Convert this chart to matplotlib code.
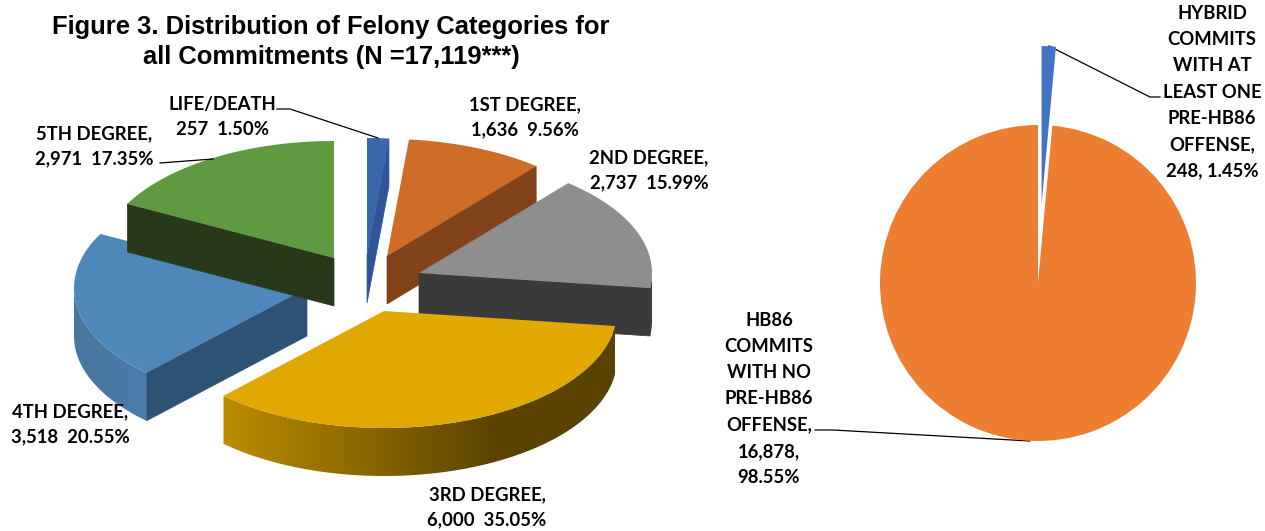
import numpy as np
from matplotlib import pyplot as plt
from matplotlib.colors import to_rgb
from matplotlib.patches import Polygon

# left pie, clockwise from 12 o'clock
felony_names = ["LIFE/DEATH", "1ST DEGREE", "2ND DEGREE", "3RD DEGREE", "4TH DEGREE", "5TH DEGREE"]
felony_counts = [257, 1636, 2737, 6000, 3518, 2971]

# right pie
hybrid_names = ["HYBRID COMMITS", "HB86 COMMITS"]
hybrid_counts = [248, 16878]

top_colors = ["#3A66AE", "#CE6D28", "#8E8E8E", "#E0A800", "#4E87BA", "#5F9940"]
cut_colors = ["#2F5597", "#82431A", "#3A3A3A", "#5C4400", "#2E5273", "#27391A"]
rim_left = ["#2F5597", "#82431A", "#3A3A3A", "#BC8D00", "#47779F", "#27391A"]
rim_right = ["#2F5597", "#82431A", "#3A3A3A", "#5A4300", "#4A7BA8", "#27391A"]
# where each exploded slice's point ends up, in pixels
tips = [(367, 255), (387, 256), (419, 273), (384, 311), (307, 288), (334, 258)]
draw_order = [5, 0, 1, 2, 4, 3]

A, B, DEPTH = 233, 117, 48
LABEL_FONT = "Lato"

fig = plt.figure(figsize=(12.65, 5.31), dpi=100)
ax = fig.add_axes([0, 0, 1, 1])


def arc(tip, a0, a1, n=120):
    th = np.radians(np.linspace(a0, a1, n))
    return np.column_stack([tip[0] + A * np.sin(th), tip[1] - B * np.cos(th)])


edges = np.cumsum([0] + felony_counts) / sum(felony_counts) * 360
for i in draw_order:
    tip = np.array(tips[i], dtype=float)
    a0, a1 = edges[i], edges[i + 1]
    down = np.array([0, DEPTH])

    # cut faces, only the ones turned to the viewer
    if 0 < a1 < 180:
        p = arc(tip, a1, a1, 1)[0]
        ax.fill(*np.array([tip, p, p + down, tip + down]).T, color=cut_colors[i], lw=0.5, zorder=i)
    if 180 < a0 < 360:
        p = arc(tip, a0, a0, 1)[0]
        ax.fill(*np.array([tip, p, p + down, tip + down]).T, color=cut_colors[i], lw=0.5, zorder=i)

    # outer rim: a gradient image clipped to the rim outline
    r0, r1 = max(a0, 90), min(a1, 270)
    if r1 > r0:
        pts = arc(tip, r0, r1)
        outline = np.vstack([pts, pts[::-1] + down])
        t = np.clip(np.linspace(0, 1, 256) / 0.7, 0, 1)[:, None]
        cols = (1 - t) * np.array(to_rgb(rim_left[i])) + t * np.array(to_rgb(rim_right[i]))
        im = ax.imshow(cols[None, :, :], aspect="auto", zorder=i, interpolation="bilinear",
                       extent=(pts[:, 0].min(), pts[:, 0].max(), outline[:, 1].max(), outline[:, 1].min()))
        im.set_clip_path(Polygon(outline, transform=ax.transData))

    ax.fill(*np.vstack([tip, arc(tip, a0, a1)]).T, color=top_colors[i], lw=0, zorder=i + 0.5)

ax.set_xlim(0, 1265)
ax.set_ylim(531, 0)
ax.axis("off")

# right pie
R, CX, CY = 158, 1038, 283
pie_ax = fig.add_axes([(CX - R) / 1265, (531 - CY - R) / 531, 2 * R / 1265, 2 * R / 531])
pie_ax.pie(hybrid_counts, colors=["#4472C4", "#ED7D31"], explode=[0.5, 0], startangle=90,
           counterclock=False, wedgeprops=dict(linewidth=0))
pie_ax.set_xlim(-1, 1)
pie_ax.set_ylim(-1, 1)
for p in pie_ax.patches:
    p.set_clip_on(False)

# title
ax.text(331, 42, "Figure 3. Distribution of Felony Categories for\nall Commitments (N =17,119***)",
        family="Liberation Sans", fontweight="bold", fontsize=18.4, ha="center", va="center",
        linespacing=1.29, color="black", zorder=20)

labels = [
    (222, 117, "LIFE/DEATH\n257  1.50%", 1.6),
    (525, 117, "1ST DEGREE,\n1,636  9.56%", 1.6),
    (649, 170, "2ND DEGREE,\n2,737  15.99%", 1.6),
    (94, 146, "5TH DEGREE,\n2,971  17.35%", 1.6),
    (70, 424, "4TH DEGREE,\n3,518  20.55%", 1.6),
    (487, 507, "3RD DEGREE,\n6,000  35.05%", 1.6),
    (1212, 92, "HYBRID\nCOMMITS\nWITH AT\nLEAST ONE\nPRE-HB86\nOFFENSE,\n248, 1.45%", 1.66),
    (769, 399, "HB86\nCOMMITS\nWITH NO\nPRE-HB86\nOFFENSE,\n16,878,\n98.55%", 1.66),
]
for x, y, txt, spacing in labels:
    ax.text(x, y, txt, family=LABEL_FONT, fontweight="bold", fontsize=13.3, ha="center", va="center",
            linespacing=spacing, color="black", zorder=20)

# leader lines
leaders = [
    ([277, 290, 378], [109, 109, 138]),
    ([160, 213], [163, 159]),
    ([1049, 1150, 1160], [46, 97, 97]),
    ([815, 833, 1030], [430, 430, 441]),
]
for xs, ys in leaders:
    ax.plot(xs, ys, color="black", lw=0.9, zorder=21)

fig.savefig("out.png", dpi=100)
